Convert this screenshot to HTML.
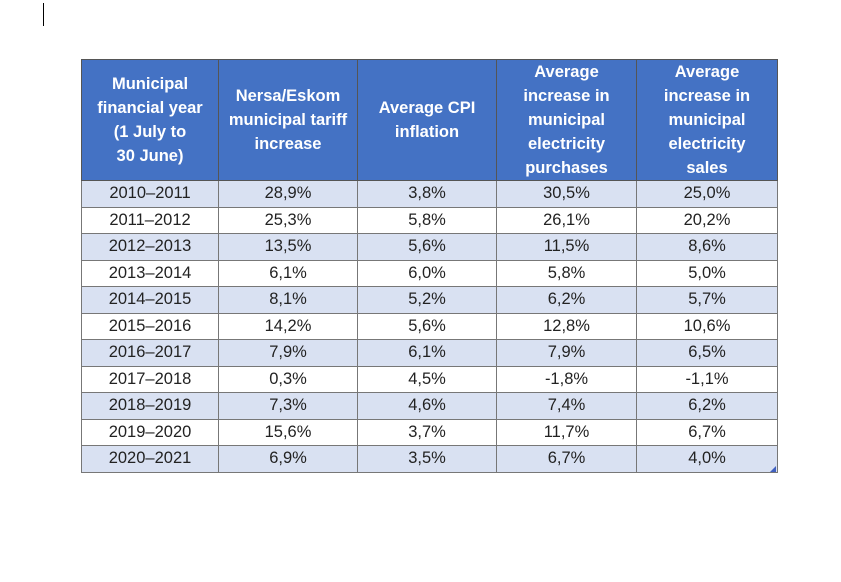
<!DOCTYPE html>
<html><head><meta charset="utf-8"><style>
body{margin:0;width:841px;height:582px;background:#fff;position:relative;overflow:hidden;font-family:"Liberation Sans",Arial,sans-serif}
table{position:absolute;left:81px;top:59px;border-collapse:collapse;table-layout:fixed;width:696px}
th,td{border:1px solid #777;text-align:center;padding:0}
th{background:#4472c4;color:#fff;font-weight:bold;font-size:16.5px;line-height:24px;height:119px;border-color:#555}
td{font-size:16.5px;color:#222;height:25.5px;line-height:25px}
tr.odd td{background:#d9e1f2}
</style></head><body>
<div style="position:absolute;left:43px;top:3px;width:1px;height:23px;background:#000"></div>
<table>
<colgroup><col style="width:137px"><col style="width:139px"><col style="width:139px"><col style="width:140px"><col style="width:141px"></colgroup>
<tr>
<th>Municipal<br>financial year<br>(1 July to<br>30 June)</th>
<th>Nersa/Eskom<br>municipal tariff<br>increase</th>
<th>Average CPI<br>inflation</th>
<th>Average<br>increase in<br>municipal<br>electricity<br>purchases</th>
<th>Average<br>increase in<br>municipal<br>electricity<br>sales</th>
</tr>
<tbody id="tb"></tbody>
</table>
<div style="position:absolute;left:770px;top:466px;width:0;height:0;border-left:6px solid transparent;border-bottom:6px solid #4060c0"></div>
<script>
const years=["2010–2011","2011–2012","2012–2013","2013–2014","2014–2015","2015–2016","2016–2017","2017–2018","2018–2019","2019–2020","2020–2021"];
const tariff=["28,9%","25,3%","13,5%","6,1%","8,1%","14,2%","7,9%","0,3%","7,3%","15,6%","6,9%"];
const cpi=["3,8%","5,8%","5,6%","6,0%","5,2%","5,6%","6,1%","4,5%","4,6%","3,7%","3,5%"];
const purchases=["30,5%","26,1%","11,5%","5,8%","6,2%","12,8%","7,9%","-1,8%","7,4%","11,7%","6,7%"];
const sales=["25,0%","20,2%","8,6%","5,0%","5,7%","10,6%","6,5%","-1,1%","6,2%","6,7%","4,0%"];
const tb=document.getElementById('tb');
years.forEach((y,i)=>{
 const tr=document.createElement('tr');
 
 
 if(i%2===0)tr.className='odd';
 [y,tariff[i],cpi[i],purchases[i],sales[i]].forEach((v,j)=>{
  const td=document.createElement('td');
  
  
  td.textContent=v;tr.appendChild(td);
 });
 tb.appendChild(tr);
});
</script>
</body></html>
